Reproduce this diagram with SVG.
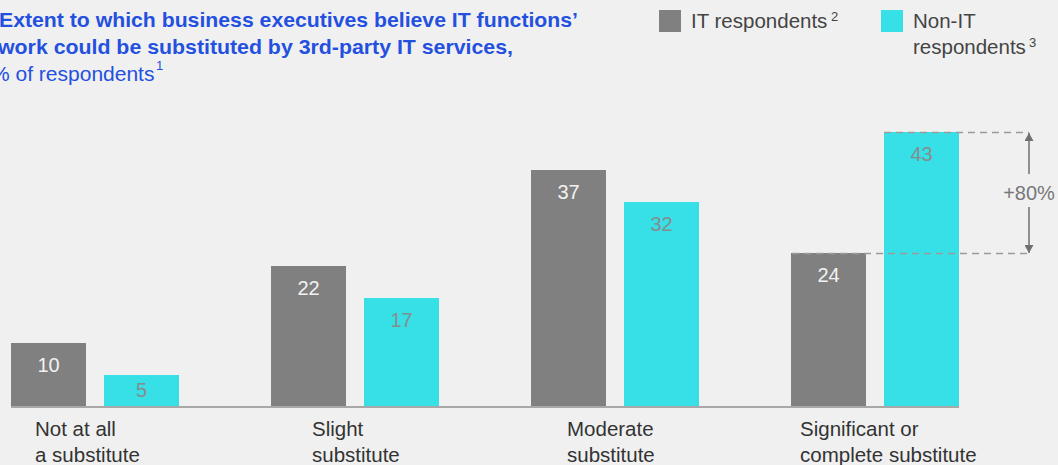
<svg xmlns="http://www.w3.org/2000/svg" width="1058" height="465" viewBox="0 0 1058 465">
<defs>
<style>
.bg{fill:#f0f0f0}
.it{fill:#808080}
.nit{fill:#37dfe6}
.t{font-family:"Liberation Sans",Arial,sans-serif}
.title{font-family:"Liberation Sans",Arial,sans-serif;font-weight:bold;font-size:21px;fill:#2450e0}
.sub{font-family:"Liberation Sans",Arial,sans-serif;font-size:21px;fill:#2450e0}
.leg{font-family:"Liberation Sans",Arial,sans-serif;font-size:20.5px;fill:#444}
.sup{font-family:"Liberation Sans",Arial,sans-serif;font-size:13px;fill:#444}
.cat{font-family:"Liberation Sans",Arial,sans-serif;font-size:20.5px;fill:#333}
.vw{font-family:"Liberation Sans",Arial,sans-serif;font-size:20px;fill:#f2f2f2;text-anchor:middle}
.vg{font-family:"Liberation Sans",Arial,sans-serif;font-size:20px;fill:#868d8e;text-anchor:middle}
.dash{stroke:#9a9a9a;stroke-width:1.5;stroke-dasharray:7 5;fill:none}
.arr{stroke:#707070;stroke-width:1.5;fill:none}
</style>
<marker id="ah" viewBox="0 0 8 9" refX="8" refY="4.5" markerWidth="8" markerHeight="9" markerUnits="userSpaceOnUse" orient="auto">
<path d="M0,0 L8,4.5 L0,9 z" fill="#707070"/>
</marker>
</defs>
<rect class="bg" x="0" y="0" width="1058" height="465"/>

<g id="title">
<text class="title" x="-1" y="27" textLength="579" lengthAdjust="spacingAndGlyphs">Extent to which business executives believe IT functions’</text>
<text class="title" x="-2" y="54" textLength="515" lengthAdjust="spacingAndGlyphs">work could be substituted by 3rd-party IT services,</text>
<text class="sub" x="-9" y="81">% of respondents</text>
<text class="sup" x="156" y="70" style="fill:#2450e0">1</text>
</g>

<g id="legend">
<rect class="it" x="659" y="10" width="22" height="22"/>
<text class="leg" x="691" y="28">IT respondents</text>
<text class="sup" x="831" y="21">2</text>
<rect class="nit" x="881" y="10" width="22" height="22"/>
<text class="leg" x="913" y="28">Non-IT</text>
<text class="leg" x="913" y="54">respondents</text>
<text class="sup" x="1029" y="47">3</text>
</g>

<g id="bars">
<g id="g1">
<rect class="it" x="11" y="343" width="75" height="64"/>
<text class="vw" x="48.5" y="372">10</text>
<rect class="nit" x="104" y="375" width="75" height="32"/>
<text class="vg" x="141.5" y="397">5</text>
</g>
<g id="g2">
<rect class="it" x="271" y="266" width="75" height="141"/>
<text class="vw" x="308.5" y="295">22</text>
<rect class="nit" x="364" y="298" width="75" height="109"/>
<text class="vg" x="401.5" y="327">17</text>
</g>
<g id="g3">
<rect class="it" x="531" y="170" width="75" height="237"/>
<text class="vw" x="568.5" y="199">37</text>
<rect class="nit" x="624" y="202" width="75" height="205"/>
<text class="vg" x="661.5" y="231">32</text>
</g>
<g id="g4">
<rect class="it" x="791" y="253" width="75" height="154"/>
<text class="vw" x="828.5" y="282">24</text>
<rect class="nit" x="884" y="132" width="75" height="275"/>
<text class="vg" x="921.5" y="161">43</text>
</g>
</g>

<line id="axis" x1="11" y1="407" x2="959" y2="407" stroke="#a8a8a8" stroke-width="2"/>

<g id="categories">
<text class="cat" x="35" y="436">Not at all</text>
<text class="cat" x="35" y="462">a substitute</text>
<text class="cat" x="312" y="436">Slight</text>
<text class="cat" x="312" y="462">substitute</text>
<text class="cat" x="567" y="436">Moderate</text>
<text class="cat" x="567" y="462">substitute</text>
<text class="cat" x="800" y="436">Significant or</text>
<text class="cat" x="800" y="462">complete substitute</text>
</g>

<g id="connectors">
<line class="dash" x1="884" y1="132.5" x2="1029" y2="132.5"/>
<line class="dash" x1="792" y1="253.5" x2="1029" y2="253.5"/>
<line class="arr" x1="1029" y1="174" x2="1029" y2="133" marker-end="url(#ah)"/>
<line class="arr" x1="1029" y1="207" x2="1029" y2="253" marker-end="url(#ah)"/>
</g>
<text class="t" x="1029" y="200" text-anchor="middle" font-size="20" fill="#777">+80%</text>
</svg>
